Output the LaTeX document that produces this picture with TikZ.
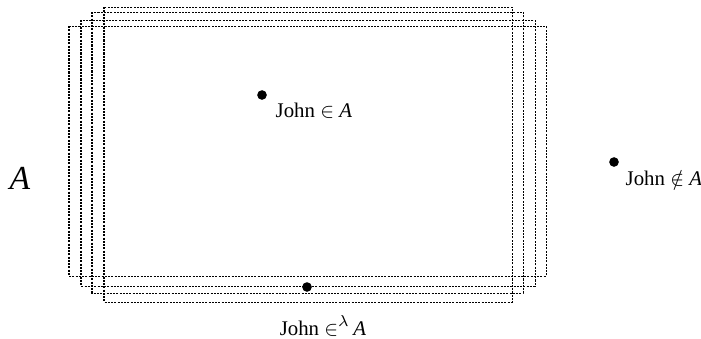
\documentclass[tikz,border=0pt]{standalone}
\usepackage{fontspec}
\setmainfont{Liberation Serif}
\tikzset{
  dotbox/.style={line width=0.45pt,dash pattern=on 0.9pt off 0.55pt},
  member/.style={circle,fill=black,inner sep=0pt,minimum size=4.3pt},
  memberlab/.style={inner sep=1pt,font=\fontsize{9.3}{11}\selectfont}
}
\begin{document}
\begin{tikzpicture}[x=0.01569cm,y=-0.01569cm]
\useasboundingbox (0,0) rectangle (701,338);
\foreach \l/\t/\r/\b in {69/26/546/276,81/20/535/286,92/12/523/293,104/7/512/302}
{
  \draw[dotbox] (\l,\t) rectangle (\r,\b);
}
\node (setA) at (20,178) {\fontsize{15}{18}\selectfont\textit{A}};

\node[member] (inA) at (262,95) {};
\node[memberlab,anchor=north west] (inAlab) at (273,100) {John $\in$ \textit{A}};

\node[member] (notA) at (614,162) {};
\node[memberlab,anchor=north west] (notAlab) at (623,168) {John $\notin$ \textit{A}};

\node[member] (edgeA) at (307,287) {};
\node[memberlab] (edgeAlab) at (323,326) {John $\in^{\lambda}$\,\textit{A}};
\end{tikzpicture}
\end{document}
